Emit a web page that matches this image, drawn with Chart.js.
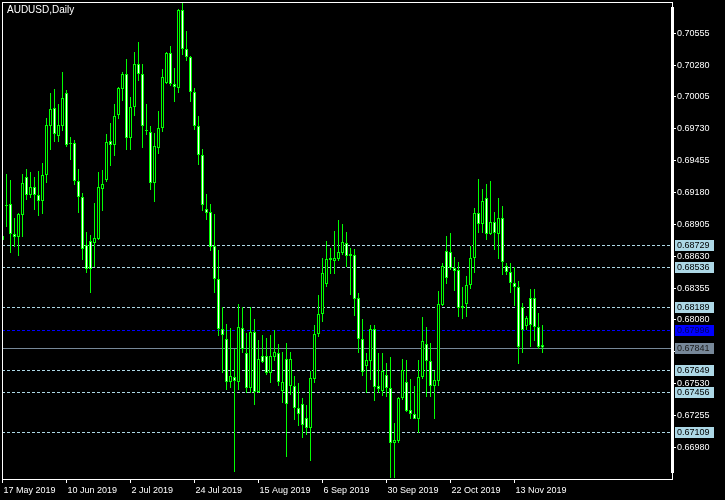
<!DOCTYPE html>
<html>
<head>
<meta charset="utf-8">
<script src="https://cdn.jsdelivr.net/npm/chart.js@4.4.0/dist/chart.umd.min.js"></script>
<style>
  html, body { margin: 0; padding: 0; background: #000; }
  #wrap { width: 725px; height: 500px; }
</style>
</head>
<body>
<div id="wrap"><canvas id="chart" width="725" height="500"></canvas></div>
<script>
/* ── Data ───────────────────────────────────────────────────────────────── */
const SYMBOL = 'AUDUSD,Daily';

const opens = [
  0.68770,0.69064,0.69081,0.68822,0.68796,0.68986,0.69314,0.69159,0.69228,0.69159,
  0.69107,0.69331,0.69755,0.69910,0.69668,0.69755,0.70040,0.69608,0.69608,0.69280,
  0.69141,0.68727,0.68762,0.68744,0.68779,0.69210,0.69288,0.69625,0.69590,0.69850,
  0.70074,0.70204,0.69651,0.69919,0.70290,0.70204,0.69720,0.69703,0.69262,0.69565,
  0.69737,0.70126,0.70385,0.70117,0.70083,0.70756,0.70419,0.70350,0.70048,0.69755,
  0.69504,0.69038,0.69012,0.68718,0.68433,0.68002,0.67915,0.67544,0.67587,0.67544,
  0.68010,0.67794,0.67492,0.67976,0.67458,0.67769,0.67769,0.67622,0.67760,0.67794,
  0.67466,0.67743,0.67509,0.67509,0.67319,0.67354,0.67233,0.67147,0.67570,0.67959,
  0.68131,0.68390,0.68597,0.68589,0.68606,0.68658,0.68744,0.68649,0.68641,0.68269,
  0.67915,0.67682,0.67725,0.68002,0.67509,0.67466,0.67604,0.67492,0.67017,0.67035,
  0.67406,0.67544,0.67302,0.67268,0.67225,0.67587,0.67872,0.67725,0.67509,0.67553,
  0.68209,0.68675,0.68667,0.68528,0.68511,0.68200,0.68218,0.68382,0.68615,0.69003,
  0.68908,0.69133,0.68822,0.68926,0.68822,0.68960,0.68546,0.68494,0.68399,0.68364,
  0.68192,0.68028,0.68269,0.68269,0.68019,0.67863
];
const highs = [
  0.68917,0.69340,0.69288,0.68960,0.69003,0.69340,0.69383,0.69357,0.69314,0.69366,
  0.69435,0.69824,0.70040,0.70074,0.69945,0.70221,0.70065,0.69660,0.69634,0.69383,
  0.69176,0.68839,0.68813,0.69090,0.69357,0.69375,0.69686,0.69780,0.69945,0.70091,
  0.70221,0.70333,0.70005,0.70394,0.70480,0.70290,0.69945,0.69755,0.69694,0.69884,
  0.70247,0.70394,0.70445,0.70255,0.70765,0.70817,0.70575,0.70359,0.70083,0.69841,
  0.69556,0.69167,0.69081,0.68995,0.68684,0.68192,0.68045,0.68010,0.67829,0.68218,
  0.68192,0.67967,0.68192,0.68088,0.67907,0.67950,0.67924,0.67950,0.67993,0.67872,
  0.67803,0.67881,0.67803,0.67596,0.67535,0.67406,0.67345,0.67639,0.68036,0.68295,
  0.68615,0.68762,0.68701,0.68848,0.68943,0.68908,0.68839,0.68701,0.68692,0.68313,
  0.68088,0.67794,0.68036,0.68036,0.67794,0.67794,0.67708,0.67760,0.67190,0.67414,
  0.67743,0.67734,0.67570,0.67509,0.67734,0.68105,0.68019,0.67881,0.67639,0.68330,
  0.68572,0.68805,0.68831,0.68623,0.68580,0.68364,0.68459,0.68718,0.69046,0.69297,
  0.69210,0.69254,0.69280,0.69012,0.69133,0.69064,0.68572,0.68572,0.68537,0.68416,
  0.68226,0.68114,0.68347,0.68347,0.68140,0.68036
];
const lows = [
  0.68641,0.68882,0.68658,0.68710,0.68632,0.68796,0.69116,0.69133,0.69029,0.68977,
  0.68995,0.69262,0.69547,0.69616,0.69616,0.69711,0.69573,0.69461,0.69245,0.69003,
  0.68597,0.68485,0.68313,0.68537,0.68770,0.69021,0.69271,0.69409,0.69496,0.69815,
  0.69970,0.69547,0.69547,0.69841,0.70143,0.69565,0.69677,0.69202,0.69098,0.69513,
  0.69703,0.70117,0.70100,0.69962,0.70040,0.70368,0.70316,0.69962,0.69720,0.69418,
  0.69021,0.68943,0.68675,0.68313,0.67941,0.67622,0.67475,0.67492,0.66767,0.67475,
  0.67794,0.67449,0.67449,0.67345,0.67449,0.67708,0.67604,0.67535,0.67725,0.67509,
  0.67363,0.66896,0.67432,0.67216,0.67164,0.67060,0.67086,0.66862,0.67535,0.67933,
  0.68062,0.68364,0.68477,0.68477,0.68589,0.68641,0.68537,0.68295,0.68114,0.67794,
  0.67596,0.67449,0.67561,0.67380,0.67449,0.67423,0.67414,0.66715,0.66715,0.67017,
  0.67389,0.67285,0.67225,0.67225,0.67104,0.67570,0.67414,0.67414,0.67225,0.67509,
  0.68200,0.68390,0.68511,0.68330,0.68105,0.68088,0.68105,0.68347,0.68485,0.68831,
  0.68831,0.68770,0.68813,0.68684,0.68606,0.68468,0.68468,0.68313,0.68200,0.67699,
  0.67794,0.67993,0.67846,0.67898,0.67829,0.67794
];
const closes = [
  0.68805,0.69072,0.68822,0.68796,0.68995,0.69262,0.69159,0.69228,0.69159,0.69107,
  0.69331,0.69763,0.69901,0.69686,0.69763,0.69996,0.69590,0.69599,0.69280,0.69141,
  0.68692,0.68520,0.68520,0.68787,0.69228,0.69254,0.69616,0.69590,0.69841,0.70083,
  0.70204,0.69651,0.69919,0.70290,0.70204,0.69755,0.69711,0.69262,0.69582,0.69737,
  0.70178,0.70385,0.70117,0.70091,0.70756,0.70419,0.70350,0.70048,0.69755,0.69504,
  0.69072,0.69003,0.68710,0.68433,0.68002,0.67950,0.67544,0.67596,0.67553,0.68019,
  0.67829,0.67492,0.67976,0.67458,0.67743,0.67717,0.67622,0.67769,0.67803,0.67544,
  0.67544,0.67354,0.67743,0.67319,0.67268,0.67173,0.67147,0.67579,0.67959,0.68131,
  0.68485,0.68606,0.68615,0.68615,0.68667,0.68753,0.68632,0.68632,0.68261,0.67915,
  0.67630,0.67734,0.68002,0.67501,0.67484,0.67639,0.67492,0.67017,0.67043,0.67406,
  0.67648,0.67294,0.67268,0.67225,0.67587,0.67898,0.67725,0.67509,0.67561,0.68218,
  0.68546,0.68442,0.68528,0.68502,0.68183,0.68183,0.68382,0.68615,0.69003,0.68908,
  0.69107,0.68822,0.68926,0.68831,0.68960,0.68580,0.68494,0.68399,0.68364,0.67846,
  0.67993,0.68097,0.68036,0.68019,0.67846,0.67841
];

const dateLabels = ['17 May 2019','10 Jun 2019','2 Jul 2019','24 Jul 2019','15 Aug 2019',
                    '6 Sep 2019','30 Sep 2019','22 Oct 2019','13 Nov 2019'];
const dateTicks  = [0, 16, 32, 48, 64, 80, 96, 112, 128];

const priceTicks = [0.66980,0.67255,0.67530,0.67805,0.68080,0.68355,0.68630,
                    0.68905,0.69180,0.69455,0.69730,0.70005,0.70280,0.70555];

const levels   = [0.68729, 0.68536, 0.68189, 0.67649, 0.67456, 0.67109];
const askLevel = 0.67996;
const bidLevel = 0.67841;

/* ── Styles ─────────────────────────────────────────────────────────────── */
const FONT_FAMILY = '"Liberation Sans", Arial, sans-serif';
const FONT = { family: FONT_FAMILY, size: 9 };
const LIME = '#00ff00';

/* ── Overlay plugin: background, levels, frame, title, price boxes ─────── */
const mtOverlay = {
  id: 'mtOverlay',
  beforeDraw(chart) {
    const c = chart.ctx;
    c.save();
    c.fillStyle = '#000';
    c.fillRect(0, 0, chart.width, chart.height);
    c.restore();
  },
  beforeDatasetsDraw(chart) {
    const c = chart.ctx, a = chart.chartArea, y = chart.scales.y;
    const hline = (v, color, dash) => {
      const py = Math.round(y.getPixelForValue(v)) + 0.5;
      c.beginPath();
      c.setLineDash(dash);
      c.strokeStyle = color;
      c.lineWidth = 1;
      c.moveTo(a.left, py);
      c.lineTo(a.right, py);
      c.stroke();
    };
    c.save();
    levels.forEach(v => hline(v, '#add8e6', [3, 2]));
    hline(askLevel, '#0000ff', [3, 2]);
    hline(bidLevel, '#778899', []);
    c.restore();
  },
  afterDraw(chart) {
    const c = chart.ctx, y = chart.scales.y;
    c.save();
    // frame + thick price-axis line
    c.strokeStyle = '#fff';
    c.lineWidth = 1;
    c.strokeRect(2.5, 2.5, 670, 477);
    c.fillStyle = '#fff';
    c.fillRect(671, 7, 3, 466);

    // title
    c.font = `10px ${FONT_FAMILY}`;
    c.textBaseline = 'middle';
    c.textAlign = 'left';
    c.fillText(SYMBOL, 7, 10);

    // price boxes on the axis
    c.font = `${FONT.size}px ${FONT_FAMILY}`;
    const box = (v, bg, fg) => {
      const py = Math.round(y.getPixelForValue(v));
      c.fillStyle = bg;
      c.fillRect(675, py - 5, 39, 11);
      c.fillStyle = fg;
      c.fillText(v.toFixed(5), 677, py + 1);
    };
    levels.forEach(v => box(v, '#add8e6', '#000'));
    box(askLevel, '#0000ff', '#000060');
    box(bidLevel, '#778899', '#1a1a1a');
    c.restore();
  }
};

/* ── Chart ──────────────────────────────────────────────────────────────── */
const idx = opens.map((_, i) => i);

new Chart(document.getElementById('chart'), {
  type: 'bar',
  data: {
    datasets: [
      {
        label: 'body',
        order: 0,
        data: idx.map(i => ({ x: i, y: [opens[i], closes[i]] })),
        backgroundColor: idx.map(i => closes[i] < opens[i] ? '#ffffff' : '#000000'),
        borderColor: LIME,
        borderWidth: 1,
        borderSkipped: false,
        barThickness: 3,
        inflateAmount: 0,
        grouped: false
      },
      {
        label: 'wick',
        order: 1,
        data: idx.map(i => ({ x: i, y: [lows[i], highs[i]] })),
        backgroundColor: LIME,
        borderWidth: 0,
        barThickness: 1,
        inflateAmount: 0,
        grouped: false
      }
    ]
  },
  options: {
    responsive: false,
    animation: false,
    devicePixelRatio: 1,
    events: [],
    layout: { padding: { left: 2, top: 2, right: 0, bottom: 0 } },
    plugins: { legend: { display: false }, tooltip: { enabled: false } },
    scales: {
      x: {
        type: 'linear',
        offset: false,
        min: -0.125,
        max: 167.375,
        afterBuildTicks: s => { s.ticks = dateTicks.map(v => ({ value: v })); },
        afterFit: s => { s.height = 21; s.paddingLeft = 0; s.paddingRight = 0; },
        grid: { offset: false, drawOnChartArea: false, color: '#fff', tickLength: 4 },
        border: { color: '#fff', width: 1 },
        ticks: {
          color: '#fff', font: FONT, align: 'start', labelOffset: 1, padding: 2,
          maxRotation: 0, autoSkip: false,
          callback: (v, i) => dateLabels[i]
        }
      },
      y: {
        position: 'right',
        min: 0.66706,
        max: 0.70825,
        afterBuildTicks: s => { s.ticks = priceTicks.map(v => ({ value: v })); },
        afterFit: s => { s.width = 53; s.paddingTop = 0; s.paddingBottom = 0; },
        grid: { drawOnChartArea: false, color: '#fff', tickLength: 4 },
        border: { color: '#fff', width: 1 },
        ticks: {
          color: '#fff', font: FONT, padding: 1,
          callback: v => v.toFixed(5)
        }
      }
    }
  },
  plugins: [mtOverlay]
});
</script>
</body>
</html>
